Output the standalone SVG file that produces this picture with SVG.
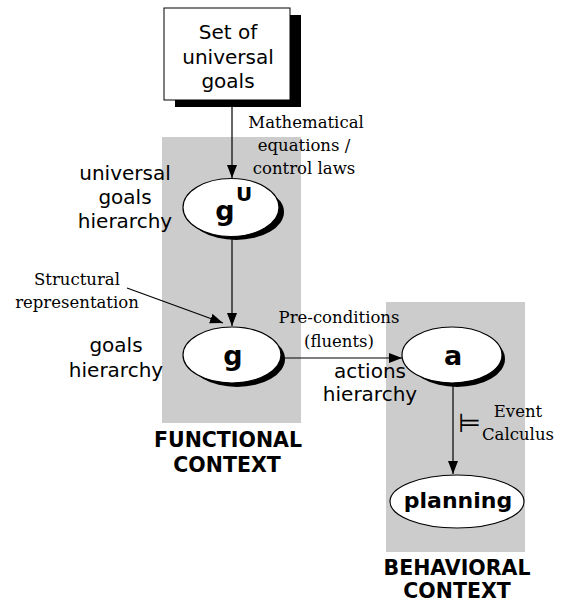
<svg xmlns="http://www.w3.org/2000/svg" width="564" height="603" viewBox="0 0 564 603">
<style>
.ctx{fill:#cccccc;stroke:none}
.sans{font-family:"DejaVu Sans",Verdana,sans-serif;font-size:20px;fill:#000;text-anchor:middle}
.serif{font-family:"DejaVu Serif","Liberation Serif",serif;font-size:16.5px;fill:#000;text-anchor:middle}
.bold{font-family:"DejaVu Sans",Verdana,sans-serif;font-weight:bold;fill:#000;text-anchor:middle}
.node{fill:#fff;stroke:#000;stroke-width:1.2}
.shadow{fill:#000;stroke:none}
.edge{stroke:#000;stroke-width:1.2;fill:none;marker-end:url(#arr)}
</style>
<defs>
<marker id="arr" markerUnits="userSpaceOnUse" markerWidth="14" markerHeight="12" refX="13" refY="5" orient="auto">
<path d="M0,0 L13,5 L0,10 Z" fill="#000"/>
</marker>
</defs>
<rect class="ctx" x="162" y="137" width="139" height="286"/>
<rect class="ctx" x="386" y="302" width="139" height="250"/>
<g id="connectors">
<line class="edge" x1="232" y1="100" x2="232" y2="178"/>
<line class="edge" x1="232" y1="238" x2="232" y2="326"/>
<line class="edge" x1="127" y1="288" x2="223" y2="323"/>
<line class="edge" x1="284" y1="358" x2="402" y2="358"/>
<line class="edge" x1="453" y1="384" x2="453" y2="474"/>
</g>
<g id="universal-goals">
<rect class="shadow" x="175" y="15" width="126" height="92"/>
<rect x="164" y="8" width="126" height="92" fill="#fff" stroke="#000" stroke-width="1"/>
<text class="sans" x="228" y="39">Set of</text>
<text class="sans" x="228" y="64">universal</text>
<text class="sans" x="228" y="88">goals</text>
</g>
<g id="gU">
<ellipse class="shadow" cx="236" cy="212" rx="48" ry="28"/>
<ellipse class="node" cx="231" cy="207.5" rx="48" ry="29"/>
<text class="bold" x="225" y="220" font-size="27">g</text>
<text class="bold" x="244" y="201" font-size="20">U</text>
</g>
<g id="g">
<ellipse class="shadow" cx="237" cy="359" rx="48" ry="28"/>
<ellipse class="node" cx="232" cy="355" rx="49" ry="28"/>
<text class="bold" x="233" y="365" font-size="27">g</text>
</g>
<g id="a">
<ellipse class="shadow" cx="457" cy="359" rx="48" ry="28"/>
<ellipse class="node" cx="452" cy="355" rx="50" ry="28"/>
<text class="bold" x="453" y="365" font-size="27">a</text>
</g>
<g id="planning">
<ellipse class="node" cx="457" cy="501.5" rx="67" ry="26.5"/>
<text class="bold" x="458" y="508" font-size="22">planning</text>
</g>
<g id="labels">
<text class="serif" x="306" y="128">Mathematical</text>
<text class="serif" x="304" y="151">equations /</text>
<text class="serif" x="304" y="174">control laws</text>
<text class="sans" x="125" y="180">universal</text>
<text class="sans" x="125" y="204">goals</text>
<text class="sans" x="125" y="228">hierarchy</text>
<text class="serif" x="77" y="285">Structural</text>
<text class="serif" x="77" y="308">representation</text>
<text class="sans" x="116" y="352">goals</text>
<text class="sans" x="116" y="377">hierarchy</text>
<text class="serif" x="339" y="323">Pre-conditions</text>
<text class="serif" x="339" y="347">(fluents)</text>
<text class="sans" x="370" y="378">actions</text>
<text class="sans" x="370" y="401">hierarchy</text>
<text class="serif" x="518" y="417">Event</text>
<text class="serif" x="518" y="440">Calculus</text>
<text x="458" y="432" font-family="DejaVu Sans,sans-serif" font-size="26" fill="#000">⊨</text>
<text class="bold" x="228" y="447" font-size="20.5">FUNCTIONAL</text>
<text class="bold" x="227" y="472" font-size="20.5">CONTEXT</text>
<text class="bold" x="457" y="575" font-size="20.5">BEHAVIORAL</text>
<text class="bold" x="457" y="598" font-size="20.5">CONTEXT</text>
</g>
</svg>
